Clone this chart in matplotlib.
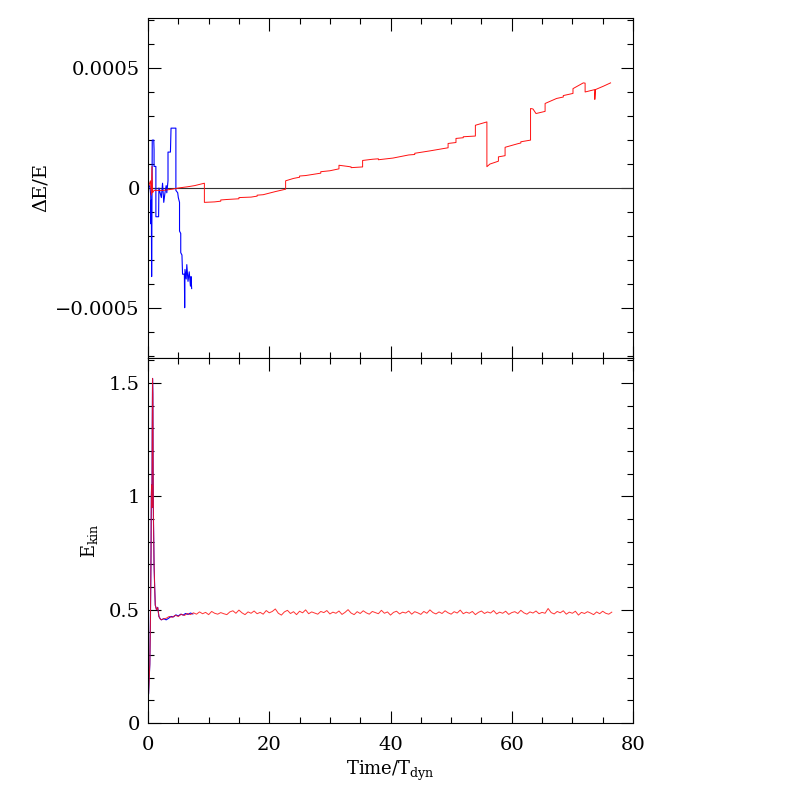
import numpy as np
import matplotlib
matplotlib.use("Agg")
import matplotlib.pyplot as plt
from matplotlib.ticker import MultipleLocator, FixedLocator

plt.rcParams['font.family'] = ['DejaVu Serif']
plt.rcParams['mathtext.fontset'] = 'dejavuserif'

# energy error, red run (dE/E in units of 1e-4)
t_red_de = [0, 0.4, 0.55, 0.65, 0.75, 1.0, 2.5, 4.0, 5.0, 6.5, 7.7, 8.5, 9.3, 9.3,
            11, 12, 12, 13, 15, 15, 17, 18, 18, 19, 21, 22.7, 22.7, 24, 25, 25, 26,
            28, 28.5, 28.5, 30, 31.5, 31.5, 33, 33.5, 33.5,
            35.4, 35.4, 37, 38, 38, 40.4, 43, 44, 44, 46.5, 48.8, 49.5, 49.5, 50.8, 50.8,
            52, 52, 54.0, 54.0, 55.9, 55.9, 56.4, 57.8, 57.8, 58.9, 58.9, 61, 61.5, 61.5,
            63.1, 63.1, 63.5, 64.0, 65.5, 65.5, 67.4, 68.5, 68.5, 70.1, 70.1, 71.8, 72.1,
            72.1, 73.7, 73.7, 73.8, 75.1, 76.3]
de_red = [0, 0.3, -0.3, 0.9, -0.2, -0.1, -0.1, -0.05, 0.0, 0.05, 0.1, 0.15, 0.2, -0.6,
          -0.58, -0.55, -0.5, -0.48, -0.45, -0.4, -0.38, -0.34, -0.3, -0.28, -0.15, -0.05, 0.3,
          0.4, 0.45, 0.5, 0.52, 0.6, 0.62, 0.68, 0.72, 0.8, 0.95, 0.9, 0.88, 0.85,
          0.88, 1.15, 1.2, 1.22, 1.18, 1.25, 1.38, 1.4, 1.45, 1.55, 1.65, 1.68, 1.86, 1.9,
          2.07, 2.1, 2.14, 2.17, 2.62, 2.76, 0.89, 1.0, 1.12, 1.3, 1.35, 1.7, 1.85, 1.88,
          1.93, 2.0, 3.32, 3.3, 3.11, 3.2, 3.53, 3.74, 3.8, 3.86, 3.95, 4.15, 4.39, 4.38,
          4.01, 4.11, 3.7, 4.11, 4.25, 4.39]

# energy error, blue run (units of 1e-4)
t_blue_de = [0, 0.3, 0.45, 0.5, 0.55, 0.6, 0.65, 0.7, 0.95, 1.0, 1.0, 1.3, 1.3, 1.75,
             1.8, 2.0, 2.2, 2.4, 2.6, 2.8, 3.0, 3.1, 3.3, 3.3, 3.7, 3.8, 4.6, 4.6,
             4.9, 5.0, 5.2, 5.2, 5.4, 5.4, 5.6, 5.7, 6.0, 6.05, 6.1, 6.3, 6.4, 6.6,
             6.8, 7.0, 7.1, 7.2]
de_blue = [0, 0.1, -0.3, -1.5, -0.5, -3.7, -1.0, 2.0, 2.0, 1.6, 0.9, 0.9, -1.2, -1.2,
           0.0, -0.2, -0.4, 0.2, -0.6, -0.2, 0.1, -0.2, 0.3, 1.5, 1.5, 2.5, 2.5, -0.1,
           -0.2, -0.4, -0.6, -1.8, -1.9, -2.7, -2.8, -3.6, -3.6, -5.0, -3.4, -3.8, -3.2, -3.9,
           -3.5, -4.1, -3.7, -4.2]

# kinetic energy: initial collapse (shared by both runs)
t_early = [0, 0.1, 0.2, 0.3, 0.4, 0.5, 0.55, 0.6, 0.65, 0.7, 0.75, 0.8, 0.85, 0.9,
           1.0, 1.1, 1.2, 1.4, 1.6, 1.8, 2.0, 2.2, 2.6]
ekin_early = [0.11, 0.13, 0.2, 0.26, 0.45, 0.75, 1.0, 1.05, 0.95, 1.3, 1.52, 1.45, 1.1, 0.9,
              0.7, 0.6, 0.52, 0.5, 0.51, 0.47, 0.46, 0.455, 0.46]

# kinetic energy after relaxation, red run, t = 3.0 ... 76.5 every 0.5
ekin_red_late = [
    0.462, 0.470, 0.466, 0.475, 0.470, 0.480, 0.474, 0.483, 0.478, 0.486,
    0.480, 0.490, 0.482, 0.488, 0.478, 0.492, 0.484, 0.480, 0.487, 0.482,
    0.478, 0.490, 0.495, 0.484, 0.498, 0.486, 0.478, 0.490, 0.484, 0.494,
    0.482, 0.488, 0.480, 0.496, 0.486, 0.492, 0.503, 0.484, 0.476, 0.490,
    0.497, 0.483, 0.491, 0.478, 0.493, 0.486, 0.499, 0.482, 0.490, 0.485,
    0.480, 0.492, 0.487, 0.496, 0.481, 0.489, 0.484, 0.494, 0.479, 0.488,
    0.500, 0.485, 0.478, 0.491, 0.483, 0.495, 0.486, 0.480, 0.492, 0.487,
    0.482, 0.497, 0.484, 0.490, 0.476, 0.488, 0.493, 0.481, 0.489, 0.485,
    0.494, 0.480, 0.491, 0.486, 0.479, 0.492, 0.484, 0.499, 0.487, 0.481,
    0.490, 0.483, 0.495, 0.486, 0.480, 0.491, 0.485, 0.498, 0.482, 0.489,
    0.484, 0.492, 0.478, 0.488, 0.494, 0.483, 0.490, 0.485, 0.496, 0.481,
    0.489, 0.484, 0.493, 0.479, 0.487, 0.491, 0.483, 0.497, 0.486, 0.480,
    0.490, 0.485, 0.494, 0.482, 0.488, 0.484, 0.505, 0.487, 0.481, 0.492,
    0.486, 0.495, 0.480, 0.489, 0.484, 0.493, 0.476, 0.488, 0.483, 0.491,
    0.485, 0.478, 0.490, 0.482, 0.493, 0.484, 0.480, 0.489]
t_red_late = np.linspace(3.0, 76.5, len(ekin_red_late))

# kinetic energy after relaxation, blue run, t = 3.0 ... 7.4
ekin_blue_late = [0.455, 0.462, 0.470, 0.468, 0.477, 0.472, 0.480, 0.476, 0.483, 0.479,
                  0.485, 0.481]
t_blue_late = np.linspace(3.0, 7.4, len(ekin_blue_late))

red = '#ff1010'
blue = '#0000ff'

fig = plt.figure(figsize=(7.97, 7.97), dpi=100)
ax1 = fig.add_axes([148/797, 1-358/797, 485/797, 340/797])
ax2 = fig.add_axes([148/797, 1-723/797, 485/797, 365/797])

ax1.axhline(0, color='#333333', lw=0.8)
ax1.plot(t_blue_de, np.array(de_blue)*1e-4, color=blue, lw=0.8)
ax1.plot(t_red_de, np.array(de_red)*1e-4, color=red, lw=0.7)

ax2.plot(list(t_early) + list(t_blue_late), ekin_early + ekin_blue_late, color=blue, lw=0.8)
ax2.plot(list(t_early) + list(t_red_late), ekin_early + ekin_red_late, color=red, lw=0.7,
         alpha=0.85)

ax1.set_xlim(0, 80)
ax2.set_xlim(0, 80)
ax1.set_ylim(-0.00071, 0.00071)
ax2.set_ylim(0, 1.61)

for ax in (ax1, ax2):
    ax.xaxis.set_major_locator(MultipleLocator(20))
    ax.xaxis.set_minor_locator(MultipleLocator(5))
    ax.tick_params(which='both', direction='in', top=True, right=True, width=0.8,
                   labelsize=14, pad=6)
    ax.tick_params(axis='x', pad=9)
    ax.tick_params(which='major', length=9)
    ax.tick_params(which='minor', length=4.5)
    for s in ax.spines.values():
        s.set_linewidth(0.8)

ax1.yaxis.set_major_locator(FixedLocator([-0.0005, 0, 0.0005]))
ax1.set_yticklabels(['\u22120.0005', '0', '0.0005'])
ax1.yaxis.set_minor_locator(MultipleLocator(0.0001))
ax1.tick_params(labelbottom=False)
ax1.set_ylabel('\u0394E/E', fontsize=14, labelpad=4)

ax2.yaxis.set_major_locator(FixedLocator([0, 0.5, 1, 1.5]))
ax2.set_yticklabels(['0', '0.5', '1', '1.5'])
ax2.yaxis.set_minor_locator(MultipleLocator(0.1))
ax2.set_xticks([0, 20, 40, 60, 80])
ax2.set_xticklabels(['0', '20', '40', '60', '80'])
ax2.set_ylabel(r'$\mathregular{E_{kin}}$', fontsize=13, labelpad=6)
ax2.set_xlabel(r'$\mathregular{Time/T_{dyn}}$', fontsize=13, labelpad=4)

fig.savefig('out.png', dpi=100)
